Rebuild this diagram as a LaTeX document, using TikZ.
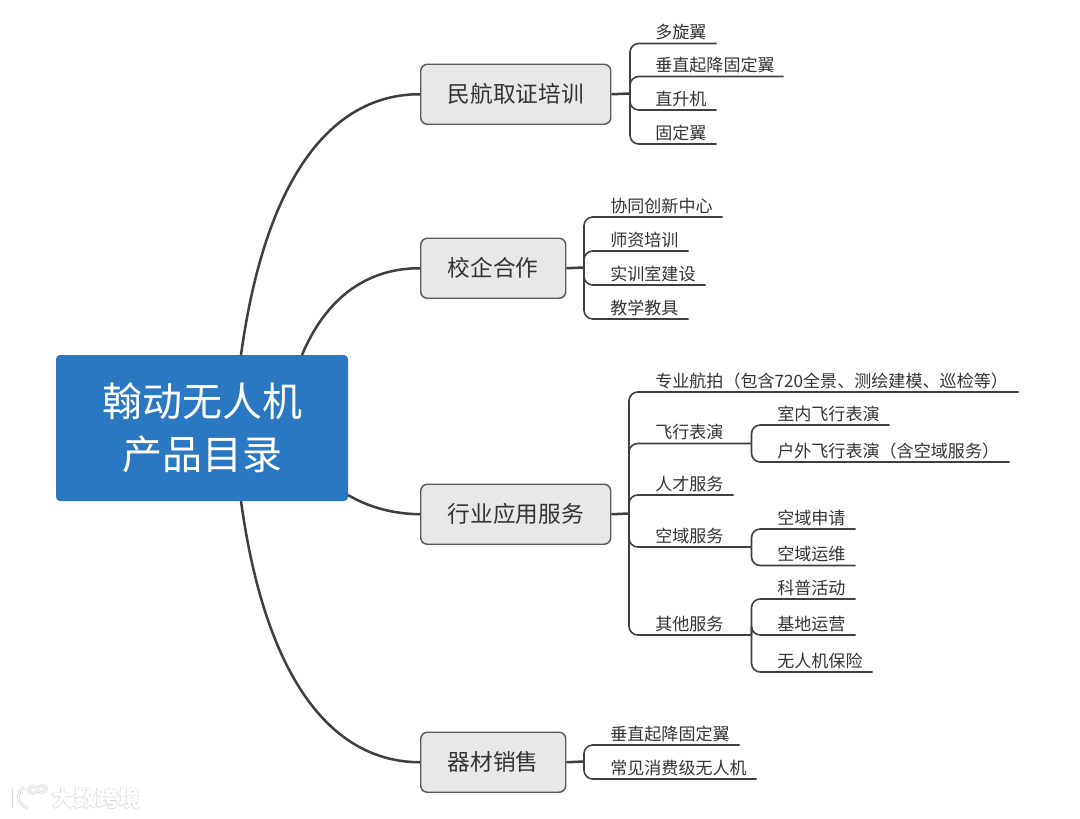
\documentclass[tikz,border=0pt]{standalone}
\usepackage{fontspec}
\setmainfont{Noto Sans CJK SC}
\newfontfamily\parenfont{Noto Sans CJK TC}
\definecolor{inkc}{HTML}{333333}
\definecolor{linec}{HTML}{3F3F3F}
\definecolor{boxf}{HTML}{E8E8E8}
\definecolor{boxd}{HTML}{5A5A5A}
\definecolor{rootc}{HTML}{2A78C2}
\definecolor{markc}{HTML}{DADADA}
\tikzset{
  mainbox/.style={draw=boxd,line width=1.1pt,fill=boxf,rounded corners=5pt,inner sep=0pt,text=inkc,font=\fontsize{17}{20}\selectfont,anchor=north west},
  rootbox/.style={fill=rootc,rounded corners=3pt,inner sep=0pt,text=white,align=center,font=\fontsize{30}{40}\selectfont,minimum width=219pt,minimum height=109.5pt},
  bigline/.style={draw=linec,line width=1.9pt},
  stem/.style={draw=linec,line width=1.9pt},
  branch/.style={draw=linec,line width=1.2pt,rounded corners=6.5pt},
  leaftext/.style={anchor=south west,inner xsep=0pt,inner ysep=2.2pt,text=inkc,align=left,font=\fontsize{12.8}{15}\selectfont},
  maintext/.style={text=inkc,font=\fontsize{17}{20}\selectfont},
  marktext/.style={text=white,font=\bfseries\fontsize{16.5}{18}\selectfont,inner sep=0pt},
  markshade/.style={text=markc,font=\bfseries\fontsize{16.5}{18}\selectfont,inner sep=0pt},
  markline/.style={draw=markc,line width=2pt},
  markcore/.style={draw=white,line width=0.7pt}
}
\newcommand{\lp}{{\parenfont （}}
\newcommand{\rp}{{\parenfont ）}}
% \leaf{name}{junction}{text x}{line end x}{y}{text}
\newcommand{\leaf}[6]{%
  \pgfmathsetmacro{\leafw}{(#4-#3)*0.75}%
  \node[leaftext,text width=\leafw pt] (#1) at (#3,#5) {\hspace*{-0.75pt}#6};
  \draw[branch] (#2) |- (#1.south east);
}
\begin{document}
\begin{tikzpicture}[x=0.75pt,y=-0.75pt]
\useasboundingbox (0,0) rectangle (1080,818);
% central topic
\node[rootbox] (root) at (202,428) {翰动无人机\\产品目录};
% main topics
\node[mainbox,minimum width=142.5pt,minimum height=45pt] (a) at (420,63.5) {};
\node[maintext] (at) at (a.center) {民航取证培训};
\node[mainbox,minimum width=108.75pt,minimum height=45pt] (b) at (420,237.5) {};
\node[maintext] (bt) at (b.center) {校企合作};
\node[mainbox,minimum width=142.5pt,minimum height=45pt] (c) at (420,483.5) {};
\node[maintext] (ct) at (c.center) {行业应用服务};
\node[mainbox,minimum width=108.75pt,minimum height=45pt] (d) at (420,731.5) {};
\node[maintext] (dt) at (d.center) {器材销售};
% root connectors
\coordinate (r1) at (241,355);
\coordinate (r2) at (302,355);
\coordinate (r3) at (348,495);
\coordinate (r4) at (241,501);
\draw[bigline] (r1) .. controls (265,180) and (330,94) .. (a.west);
\draw[bigline] (r2) .. controls (325,300) and (365,268) .. (b.west);
\draw[bigline] (r3) .. controls (370,508) and (395,514) .. (c.west);
\draw[bigline] (r4) .. controls (265,676) and (330,762) .. (d.west);
% junctions
\coordinate (ja) at (630,93.5);
\coordinate (jb) at (584,267.5);
\coordinate (jc) at (629,513.5);
\coordinate (jd) at (584,761.5);
\draw[stem] (a.east) -- (ja);
\draw[stem] (b.east) -- (jb);
\draw[stem] (c.east) -- (jc);
\draw[stem] (d.east) -- (jd);
% group a
\leaf{a1}{ja}{656}{716}{43.5}{多旋翼}
\leaf{a2}{ja}{656}{783}{76.5}{垂直起降固定翼}
\leaf{a3}{ja}{656}{716}{110}{直升机}
\leaf{a4}{ja}{656}{716}{144}{固定翼}
% group b
\leaf{b1}{jb}{611}{722}{217}{协同创新中心}
\leaf{b2}{jb}{611}{688}{251}{师资培训}
\leaf{b3}{jb}{611}{705}{285}{实训室建设}
\leaf{b4}{jb}{611}{688}{319}{教学教具}
% group c
\leaf{c1}{jc}{656}{1018}{392}{专业航拍\lp 包含720全景、测绘建模、巡检等\rp}
\leaf{c2}{jc}{656}{751}{443.5}{飞行表演}
\leaf{c3}{jc}{656}{733}{495}{人才服务}
\leaf{c4}{jc}{656}{751}{547}{空域服务}
\leaf{c5}{jc}{656}{751}{635}{其他服务}
\leaf{c21}{c2.south east}{778}{889}{425}{室内飞行表演}
\leaf{c22}{c2.south east}{778}{1009}{462}{户外飞行表演\lp 含空域服务\rp}
\leaf{c41}{c4.south east}{778}{855}{529}{空域申请}
\leaf{c42}{c4.south east}{778}{855}{565.5}{空域运维}
\leaf{c51}{c5.south east}{778}{855}{599}{科普活动}
\leaf{c52}{c5.south east}{778}{855}{635}{基地运营}
\leaf{c53}{c5.south east}{778}{872}{672}{无人机保险}
% group d
\leaf{d1}{jd}{611}{739}{745}{垂直起降固定翼}
\leaf{d2}{jd}{611}{756}{779}{常见消费级无人机}
% watermark
\foreach \st in {markline,markcore}{
  \draw[\st] (13,789) -- (13,808);
  \draw[\st] (24,787) .. controls (16,793) and (16,804) .. (28,808);
  \draw[\st] (33,790) ellipse (4.5 and 3.5);
  \draw[\st] (42,789) ellipse (4.5 and 3.5);
}
\foreach \dx/\dy in {-0.8/0,0.8/0,0/-0.8,0/0.8}{
  \node[markshade] at (96+\dx,798.5+\dy) {大数跨境};
}
\node[marktext] (wm) at (96,798.5) {大数跨境};
\end{tikzpicture}
\end{document}
